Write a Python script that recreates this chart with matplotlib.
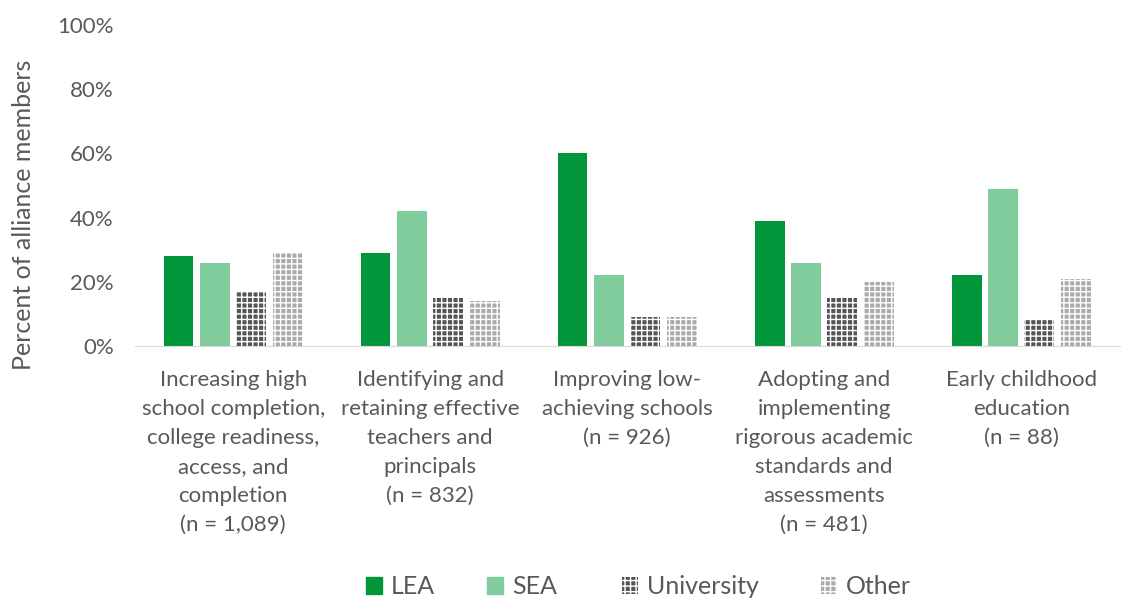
import numpy as np
import matplotlib.pyplot as plt
from matplotlib.patches import Patch

plt.rcParams['font.family'] = ['Lato', 'DejaVu Sans']
plt.rcParams['hatch.linewidth'] = 1.0

categories = ['Increasing high\nschool completion,\ncollege readiness,\naccess, and\ncompletion\n(n = 1,089)',
              'Identifying and\nretaining effective\nteachers and\nprincipals\n(n = 832)',
              'Improving low-\nachieving schools\n(n = 926)',
              'Adopting and\nimplementing\nrigorous academic\nstandards and\nassessments\n(n = 481)',
              'Early childhood\neducation\n(n = 88)']
lea = [28, 29, 60, 39, 22]
sea = [26, 42, 22, 26, 49]
university = [17, 15, 9, 15, 8]
other = [29, 14, 9, 20, 21]
series = ['LEA', 'SEA', 'University', 'Other']

grey = '#595959'
fig = plt.figure(figsize=(11.22, 5.99), dpi=100)
ax = fig.add_axes([0.120, 0.4224, 0.878, 0.5356])

x = np.arange(len(categories))
step = 0.185
w = 0.152
styles = [dict(color='#009639'),
          dict(color='#80CC9C'),
          dict(facecolor='#555555', edgecolor='white', hatch='+++', linewidth=0),
          dict(facecolor='#AAAAAA', edgecolor='white', hatch='+++', linewidth=0)]
for i, vals in enumerate([lea, sea, university, other]):
    ax.bar(x + (i - 1.5) * step, vals, w, **styles[i])

ax.set_xlim(-0.5, 4.5)
ax.set_ylim(0, 100)
ax.set_yticks(range(0, 101, 20))
ax.set_yticklabels(['%d%%' % v for v in range(0, 101, 20)], fontsize=16)
ax.set_xticks(x)
ax.set_xticklabels(categories, linespacing=1.57, va='top', fontsize=16)
ax.tick_params(axis='both', length=0, labelcolor=grey)
ax.tick_params(axis='y', pad=15)
ax.tick_params(axis='x', pad=17)
for s in ['top', 'right', 'left']:
    ax.spines[s].set_visible(False)
ax.spines['bottom'].set_color('#D9D9D9')

fig.text(0.021, 1 - 215 / 599, 'Percent of alliance members', rotation=90,
         ha='center', va='center', fontsize=18, color=grey)

# legend entries placed one by one, as in the original
leg_x = [366, 487, 622, 821]
for i in range(4):
    fig.legend([Patch(**styles[i])], [series[i]], loc='center left',
               bbox_to_anchor=(leg_x[i] / 1122, 1 - 587 / 599),
               frameon=False, fontsize=18, labelcolor=grey, handlelength=0.65,
               handleheight=0.65, handletextpad=0.35, borderpad=0, borderaxespad=0)

fig.savefig('out.png', dpi=100)
